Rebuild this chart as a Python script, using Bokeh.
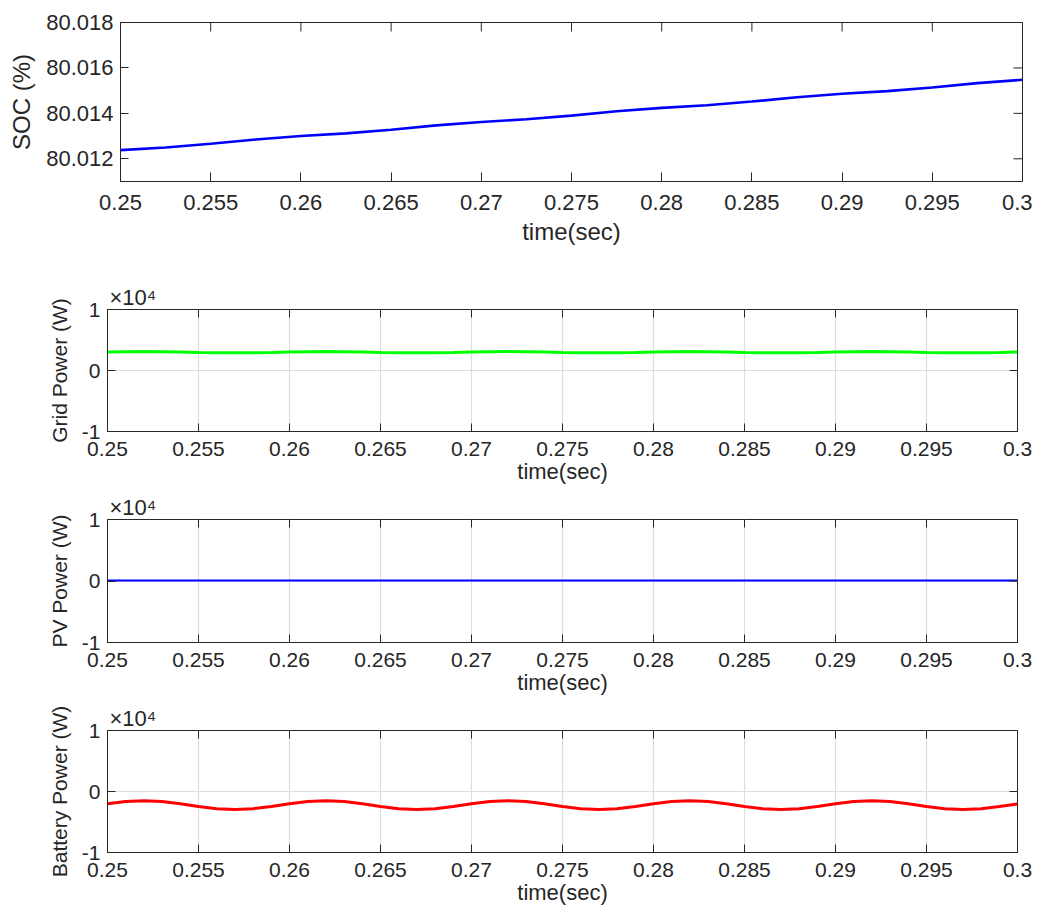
import math
from bokeh.plotting import figure
from bokeh.layouts import column, row
from bokeh.models import FixedTicker, Range1d, Title
from bokeh.embed import file_html
from bokeh.resources import INLINE

# ---------------- data ----------------
x_ticks = [0.25, 0.255, 0.26, 0.265, 0.27, 0.275, 0.28, 0.285, 0.29, 0.295, 0.3]
x_tick_labels = ["0.25", "0.255", "0.26", "0.265", "0.27", "0.275", "0.28", "0.285", "0.29", "0.295", "0.3"]

soc_ticks = [80.012, 80.014, 80.016, 80.018]
soc_tick_labels = ["80.012", "80.014", "80.016", "80.018"]

pw_ticks = [-10000, 0, 10000]
pw_tick_labels = ["-1", "0", "1"]

# SOC (%) sampled every 2.5 ms
t_soc = [0.25, 0.2525, 0.255, 0.2575, 0.26, 0.2625, 0.265, 0.2675, 0.27, 0.2725, 0.275,
         0.2775, 0.28, 0.2825, 0.285, 0.2875, 0.29, 0.2925, 0.295, 0.2975, 0.3]
soc = [80.01238, 80.01250, 80.01266, 80.01285, 80.01300, 80.01312, 80.01328, 80.01347,
       80.01362, 80.01374, 80.01390, 80.01409, 80.01424, 80.01436, 80.01452, 80.01471,
       80.01486, 80.01498, 80.01514, 80.01533, 80.01548]

# power signals sampled every 1 ms (W)
t_pw = [round(0.25 + 0.001 * i, 3) for i in range(51)]
grid_power = [3030, 3080, 3100, 3080, 3030, 2970, 2920, 2900, 2920, 2970,
              3030, 3080, 3100, 3080, 3030, 2970, 2920, 2900, 2920, 2970,
              3030, 3080, 3100, 3080, 3030, 2970, 2920, 2900, 2920, 2970,
              3030, 3080, 3100, 3080, 3030, 2970, 2920, 2900, 2920, 2970,
              3030, 3080, 3100, 3080, 3030, 2970, 2920, 2900, 2920, 2970,
              3030]
battery_power = [-2000, -1640, -1500, -1640, -2000, -2450, -2810, -2950, -2810, -2450,
                 -2000, -1640, -1500, -1640, -2000, -2450, -2810, -2950, -2810, -2450,
                 -2000, -1640, -1500, -1640, -2000, -2450, -2810, -2950, -2810, -2450,
                 -2000, -1640, -1500, -1640, -2000, -2450, -2810, -2950, -2810, -2450,
                 -2000, -1640, -1500, -1640, -2000, -2450, -2810, -2950, -2810, -2450,
                 -2050]
t_pv = [0.25, 0.255, 0.26, 0.265, 0.27, 0.275, 0.28, 0.285, 0.29, 0.295, 0.3]
pv_power = [80, 80, 80, 80, 80, 80, 80, 80, 80, 80, 80]

X_START, X_END = 0.25, 0.3
SOC_MIN, SOC_MAX = 80.011, 80.018
PW_MIN, PW_MAX = -10000, 10000

FONT = "Liberation Sans"
DARK = "#262626"


def style_axis(ax, tick_px, label_px, tick_len, standoff, label_standoff):
    ax.axis_line_color = DARK
    ax.major_tick_line_color = DARK
    ax.minor_tick_line_color = None
    ax.major_tick_in = tick_len
    ax.major_tick_out = 0
    ax.major_label_text_font = FONT
    ax.major_label_text_font_size = f"{tick_px}px"
    ax.major_label_text_color = DARK
    ax.major_label_standoff = standoff
    ax.axis_label_text_font = FONT
    ax.axis_label_text_font_size = f"{label_px}px"
    ax.axis_label_text_font_style = "normal"
    ax.axis_label_text_color = DARK
    ax.axis_label_standoff = label_standoff


def box_ticks(p, yticks, ymax, tick_len):
    # inward tick marks on the top and right edges of the box (clipped to the frame)
    p.scatter(x=x_ticks, y=[ymax] * len(x_ticks), marker="dash", angle=math.pi / 2,
              size=2 * tick_len, line_color=DARK, line_width=1)
    p.scatter(x=[X_END] * len(yticks), y=yticks, marker="dash",
              size=2 * tick_len, line_color=DARK, line_width=1)


# ---------------- SOC figure ----------------
p1 = figure(frame_width=902, frame_height=159, output_backend="svg", toolbar_location=None,
            x_range=Range1d(X_START, X_END), y_range=Range1d(SOC_MIN, SOC_MAX),
            min_border_left=120, min_border_right=10, min_border_top=22, min_border_bottom=101)
p1.line(t_soc, soc, color="#0000FF", line_width=2.6)
p1.xgrid.visible = False
p1.ygrid.visible = False
p1.outline_line_color = DARK
p1.xaxis.ticker = FixedTicker(ticks=x_ticks)
p1.xaxis.major_label_overrides = dict(zip(x_ticks, x_tick_labels))
p1.yaxis.ticker = FixedTicker(ticks=soc_ticks)
p1.yaxis.major_label_overrides = dict(zip(soc_ticks, soc_tick_labels))
p1.xaxis.axis_label = "time(sec)"
p1.yaxis.axis_label = "SOC (%)"
style_axis(p1.xaxis[0], 22, 24, 9, 13, 5)
style_axis(p1.yaxis[0], 22, 24, 8, 7, 8)
box_ticks(p1, soc_ticks, SOC_MAX, 9)


def power_fig(t, y, color, lw, ylabel, top, frame_h, bottom):
    p = figure(frame_width=910, frame_height=frame_h, output_backend="svg", toolbar_location=None,
               x_range=Range1d(X_START, X_END), y_range=Range1d(PW_MIN, PW_MAX),
               min_border_left=107, min_border_right=15, min_border_top=top,
               min_border_bottom=bottom)
    p.xgrid.ticker = FixedTicker(ticks=x_ticks)
    p.ygrid.ticker = FixedTicker(ticks=pw_ticks)
    p.xgrid.grid_line_color = "#dedede"
    p.ygrid.grid_line_color = "#dedede"
    p.xgrid.grid_line_width = 1.2
    p.ygrid.grid_line_width = 1.2
    p.line(t, y, color=color, line_width=lw)
    p.outline_line_color = DARK
    p.xaxis.ticker = FixedTicker(ticks=x_ticks)
    p.xaxis.major_label_overrides = dict(zip(x_ticks, x_tick_labels))
    p.yaxis.ticker = FixedTicker(ticks=pw_ticks)
    p.yaxis.major_label_overrides = dict(zip(pw_ticks, pw_tick_labels))
    p.xaxis.axis_label = "time(sec)"
    p.yaxis.axis_label = ylabel
    style_axis(p.xaxis[0], 21, 22, 8, 10, 0)
    style_axis(p.yaxis[0], 21, 21, 8, 7, 8)
    box_ticks(p, pw_ticks, PW_MAX, 8)
    p.add_layout(Title(text="\u00d710\u2074", align="left", offset=2, standoff=0,
                       text_font=FONT, text_font_size="22px", text_font_style="normal",
                       text_color=DARK), "above")
    return p


p2 = power_fig(t_pw, grid_power, "#00FF00", 3, "Grid Power (W)", 27, 122, 61)
p3 = power_fig(t_pv, pv_power, "#0000FF", 2.2, "PV Power (W)", 26, 123, 61)
p4 = power_fig(t_pw, battery_power, "#FF0000", 3, "Battery Power (W)", 27, 122, 56)

layout = column(row(p1), row(p2), row(p3), row(p4), spacing=0)
open("out.html", "w").write(file_html(layout, INLINE))
